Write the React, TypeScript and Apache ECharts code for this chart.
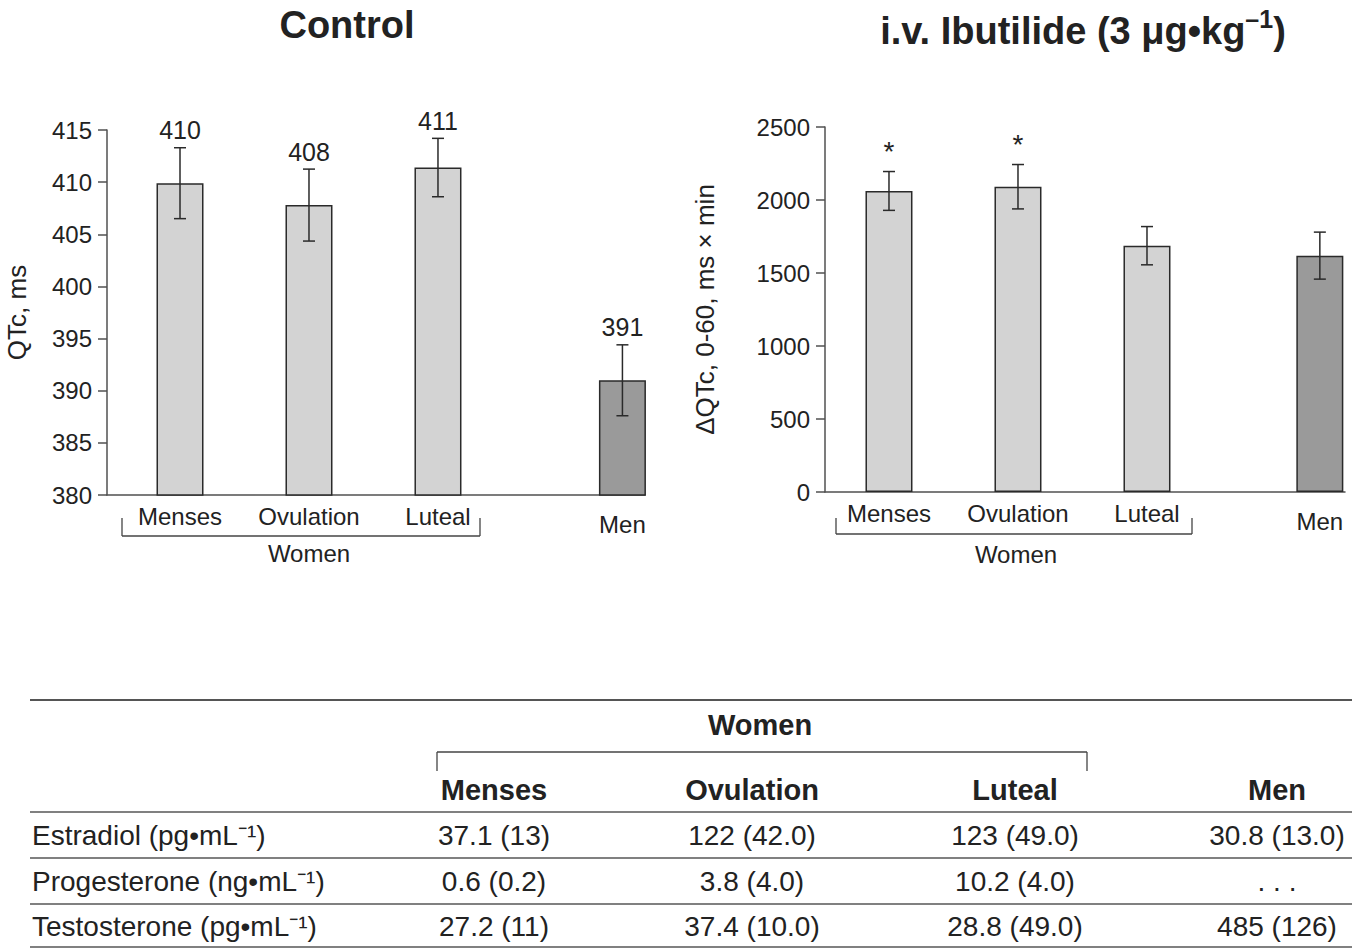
import React, { useEffect, useRef } from 'react';
import * as echarts from 'echarts';

// ---------- data ----------
const groups = ['Menses', 'Ovulation', 'Luteal', 'Men'];
const controlQTc = [409.9, 407.8, 411.4, 391.0];
const controlErr = [3.4, 3.45, 2.8, 3.4];
const ibutilideQTc = [2062, 2091, 1687, 1619];
const ibutilideErr = [133, 152, 131, 161];
const ibutilideMarks = ['*', '*', '', ''];
const controlAxis = { min: 380, max: 415, interval: 5 };
const ibutilideAxis = { min: 0, max: 2500, interval: 500 };

const tableHeaders = ['Menses', 'Ovulation', 'Luteal', 'Men'];
const hormoneNames = ['Estradiol (pg•mL⁻¹)', 'Progesterone (ng•mL⁻¹)', 'Testosterone (pg•mL⁻¹)'];
const estradiol = ['37.1 (13)', '122 (42.0)', '123 (49.0)', '30.8 (13.0)'];
const progesterone = ['0.6 (0.2)', '3.8 (4.0)', '10.2 (4.0)', '. . .'];
const testosterone = ['27.2 (11)', '37.4 (10.0)', '28.8 (49.0)', '485 (126)'];
const hormoneRows = [estradiol, progesterone, testosterone];

// ---------- layout ----------
const FONT = '"Liberation Sans", Arial, Helvetica, sans-serif';
const INK = '#222';
const AXIS = '#505050';
const LIGHT = '#d3d3d3';
const DARK = '#9a9a9a';
const slotLeft = [0, 1, 2, 3.43];
const slotRight = [0, 1, 2, 3.34];

function makeErrRender(yMin: number, kind: 'value' | 'mark') {
  return (params: any, api: any) => {
    const i = params.dataIndex;
    const x = api.value(0);
    const m = api.value(1);
    const e = api.value(2);
    const top = api.coord([x, m + e]);
    const bot = api.coord([x, m - e]);
    const base = api.coord([x, yMin]);
    const ls = { stroke: '#2a2a2a', lineWidth: 1.5 };
    const children: any[] = [
      { type: 'line', shape: { x1: top[0], y1: top[1], x2: bot[0], y2: bot[1] }, style: ls },
      { type: 'line', shape: { x1: top[0] - 6, y1: top[1], x2: top[0] + 6, y2: top[1] }, style: ls },
      { type: 'line', shape: { x1: bot[0] - 6, y1: bot[1], x2: bot[0] + 6, y2: bot[1] }, style: ls },
    ];
    if (kind === 'value') {
      children.push({
        type: 'text', x: top[0], y: top[1] - 5,
        style: { text: String(Math.round(m)), fontSize: 25, fontFamily: FONT, fill: INK, align: 'center', verticalAlign: 'bottom' },
      });
    } else if (ibutilideMarks[i]) {
      children.push({
        type: 'text', x: top[0], y: top[1] - 20,
        style: { text: ibutilideMarks[i], fontSize: 28, fontFamily: FONT, fill: INK, align: 'center', verticalAlign: 'middle' },
      });
    }
    const isMen = groups[i] === 'Men';
    children.push({
      type: 'text', x: base[0], y: base[1] + (isMen ? 29 : 21),
      style: { text: groups[i], fontSize: 24, fontFamily: FONT, fill: INK, align: 'center', verticalAlign: 'middle' },
    });
    return { type: 'group', children };
  };
}

function bracket(x1: number, x2: number, yTop: number, yBot: number, down: boolean) {
  const ls = { stroke: '#444', lineWidth: 1.3 };
  const yH = down ? yTop : yBot;
  const yE = down ? yBot : yTop;
  return [
    { type: 'line', shape: { x1, y1: yE, x2: x1, y2: yH }, style: ls },
    { type: 'line', shape: { x1, y1: yH, x2, y2: yH }, style: ls },
    { type: 'line', shape: { x1: x2, y1: yH, x2, y2: yE }, style: ls },
  ];
}

function txt(text: string, x: number, y: number, size: number, align: string, bold = false, extra: any = {}) {
  return {
    type: 'text', x, y,
    style: { text, fontSize: size, fontFamily: FONT, fontWeight: bold ? 'bold' : 'normal', fill: INK, align, verticalAlign: 'middle', ...extra },
  };
}

function buildTable() {
  const els: any[] = [];
  const colX = [494, 752, 1015, 1277];
  const rules = [700, 812, 858, 904, 947];
  rules.forEach((y, k) => {
    els.push({ type: 'line', shape: { x1: 30, y1: y, x2: 1352, y2: y }, style: { stroke: k === 0 ? '#555' : '#808080', lineWidth: 2 } });
  });
  els.push(txt('Women', 760, 725, 29, 'center', true));
  els.push(...bracket(437, 1087, 752, 771, true));
  tableHeaders.forEach((h, c) => els.push(txt(h, colX[c], 790, 29, 'center', true)));
  const rowY = [835, 881, 926];
  hormoneNames.forEach((name, r) => {
    els.push(txt(name, 32, rowY[r], 28, 'left'));
    hormoneRows[r].forEach((v, c) => els.push(txt(v, colX[c], rowY[r], 28, 'center')));
  });
  return els;
}

export default function App() {
  const ref = useRef<HTMLDivElement>(null);
  useEffect(() => {
    if (!ref.current) return;
    const chart = echarts.init(ref.current, undefined, { renderer: 'svg' });
    const axisLine = { show: true, onZero: false, lineStyle: { color: AXIS, width: 1.5 } };
    const yAxisCommon = {
      type: 'value',
      axisLine,
      axisTick: { show: true, inside: false, length: 9, lineStyle: { color: AXIS, width: 1.5 } },
      axisLabel: { fontSize: 24, fontFamily: FONT, color: INK, margin: 15, formatter: (v: number) => String(v) },
      splitLine: { show: false },
      nameLocation: 'middle',
      nameTextStyle: { fontSize: 26, fontFamily: FONT, color: INK },
    };
    const xAxisCommon = {
      type: 'value',
      axisLine,
      axisTick: { show: false },
      axisLabel: { show: false },
      splitLine: { show: false },
    };
    const barData = (slots: number[], vals: number[]) =>
      slots.map((x, i) => ({
        value: [x, vals[i]],
        itemStyle: { color: groups[i] === 'Men' ? DARK : LIGHT, borderColor: '#2a2a2a', borderWidth: 1.5 },
      }));
    const errData = (slots: number[], vals: number[], errs: number[]) => slots.map((x, i) => [x, vals[i], errs[i]]);

    chart.setOption({
      animation: false,
      backgroundColor: '#fff',
      textStyle: { fontFamily: FONT },
      grid: [
        { left: 107, top: 130, width: 538, height: 365 },
        { left: 825, top: 127, width: 520, height: 365 },
      ],
      xAxis: [
        { ...xAxisCommon, gridIndex: 0, min: -0.566, max: 3.605 },
        { ...xAxisCommon, gridIndex: 1, min: -0.496, max: 3.535 },
      ],
      yAxis: [
        { ...yAxisCommon, gridIndex: 0, ...controlAxis, name: 'QTc, ms', nameGap: 77 },
        { ...yAxisCommon, gridIndex: 1, ...ibutilideAxis, name: 'ΔQTc, 0-60, ms × min', nameGap: 107 },
      ],
      series: [
        { type: 'bar', xAxisIndex: 0, yAxisIndex: 0, barWidth: 47, data: barData(slotLeft, controlQTc) },
        { type: 'bar', xAxisIndex: 1, yAxisIndex: 1, barWidth: 47, data: barData(slotRight, ibutilideQTc) },
        {
          type: 'custom', xAxisIndex: 0, yAxisIndex: 0, clip: false, z: 5,
          renderItem: makeErrRender(controlAxis.min, 'value'),
          encode: { x: 0, y: 1 },
          data: errData(slotLeft, controlQTc, controlErr),
        },
        {
          type: 'custom', xAxisIndex: 1, yAxisIndex: 1, clip: false, z: 5,
          renderItem: makeErrRender(ibutilideAxis.min, 'mark'),
          encode: { x: 0, y: 1 },
          data: errData(slotRight, ibutilideQTc, ibutilideErr),
        },
      ],
      graphic: [
        txt('Control', 347, 25, 38, 'center', true),
        {
          type: 'text', x: 1083, y: 28,
          style: {
            text: '{a|i.v. Ibutilide (3 μg•kg}{s|–1}{a|)}',
            align: 'center', verticalAlign: 'middle', fill: INK,
            rich: {
              a: { fontSize: 38, fontWeight: 'bold', fontFamily: FONT, fill: INK, lineHeight: 44, verticalAlign: 'bottom' },
              s: { fontSize: 25, fontWeight: 'bold', fontFamily: FONT, fill: INK, lineHeight: 44, verticalAlign: 'top' },
            },
          },
        },
        ...bracket(122, 480, 518, 536, false),
        txt('Women', 309, 553, 24, 'center'),
        ...bracket(836, 1192, 518, 534, false),
        txt('Women', 1016, 554, 24, 'center'),
        ...buildTable(),
      ],
    });
    return () => chart.dispose();
  }, []);
  return <div ref={ref} style={{ position: 'fixed', left: 0, top: 0, width: 1359, height: 949, background: '#fff' }} />;
}
